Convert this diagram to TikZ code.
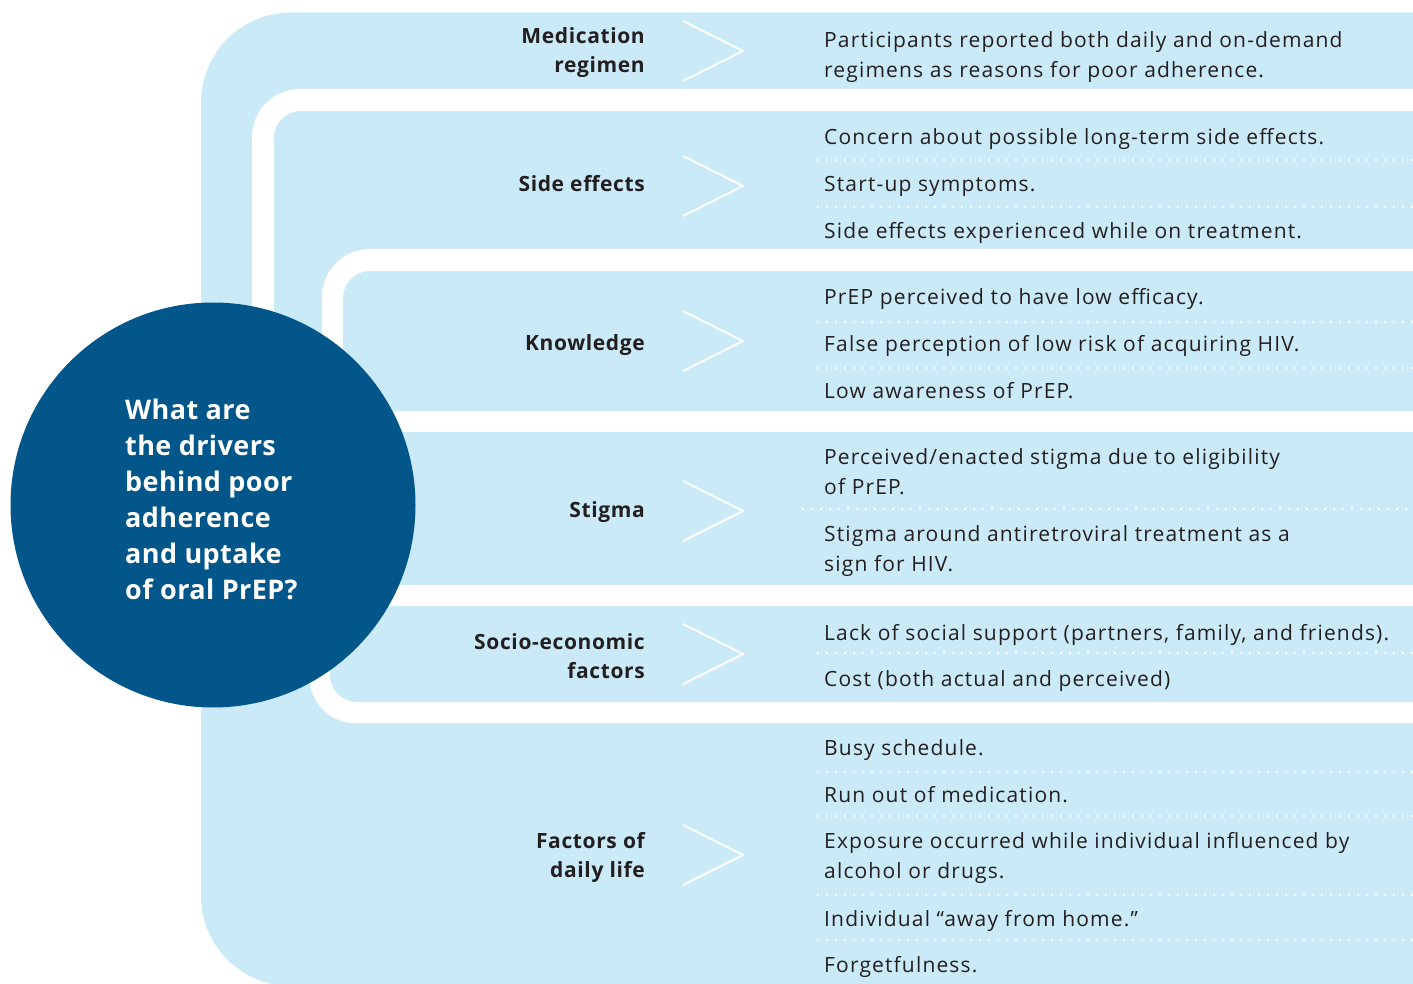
\documentclass[tikz,border=0pt]{standalone}
\usepackage{fontspec}
\setmainfont{Open Sans}
\newfontfamily\findingfont[LetterSpace=5.5]{Open Sans}
\newfontfamily\labelfont[LetterSpace=3]{Open Sans}
\newfontfamily\questionfont[LetterSpace=1.5]{Open Sans}
\definecolor{paleblue}{HTML}{CBEAF7}
\definecolor{deepblue}{HTML}{02568A}
\definecolor{inkgray}{HTML}{231F20}
\begin{document}
\begin{tikzpicture}[x=1pt,y=-1pt,
  cat/.style={font=\labelfont\bfseries\fontsize{21}{29}\selectfont, text=inkgray, anchor=base east, inner sep=0pt},
  item/.style={font=\findingfont\fontsize{21}{30}\selectfont, text=inkgray, anchor=base west, inner sep=0pt},
  hubtext/.style={font=\questionfont\bfseries\fontsize{27}{36}\selectfont, text=white, anchor=base west, inner sep=0pt},
  chev/.style={draw=white, line width=2pt},
  dots/.style={draw=white, line width=2.8pt, line cap=round, dash pattern=on 0pt off 9pt}]
\useasboundingbox (0,0) rectangle (1413,984);
\clip (0,0) rectangle (1413,984);

% outer band: medication regimen (top) and factors of daily life (bottom)
\fill[paleblue] (1420,12.5) -- (291,12.5) arc[start angle=270,end angle=180,radius=90]
  -- (201,896) arc[start angle=180,end angle=90,radius=90] -- (1420,986) -- cycle;
% first white gap
\fill[white] (1420,89) -- (300,89) arc[start angle=270,end angle=180,radius=48]
  -- (252,500) -- (310,600) -- (310,678) arc[start angle=180,end angle=90,radius=45]
  -- (1420,723) -- cycle;
% side effects
\fill[paleblue] (1420,111) -- (301,111) arc[start angle=270,end angle=180,radius=27]
  -- (274,520) -- (322,580) -- (1420,580) -- cycle;
% second white gap
\fill[white] (1420,249) -- (370,249) arc[start angle=270,end angle=180,radius=48]
  -- (322,560) -- (310,600) -- (310,678) arc[start angle=180,end angle=90,radius=45]
  -- (1420,723) -- cycle;
% knowledge
\fill[paleblue] (1420,271) -- (370,271) arc[start angle=270,end angle=180,radius=27]
  -- (343,411) -- (1420,411) -- cycle;
% stigma
\fill[paleblue] (1420,432) -- (340,432) -- (340,585) -- (1420,585) -- cycle;
% socio-economic factors
\fill[paleblue] (1420,606) -- (330,606) -- (330,675) arc[start angle=180,end angle=90,radius=27]
  -- (1420,702) -- cycle;

% central question
\node[circle, fill=deepblue, minimum size=405pt, inner sep=0pt] (hub) at (213,505) {};
\node[hubtext] (q1) at (125,419) {What are};
\node[hubtext] (q2) at (125,455) {the drivers};
\node[hubtext] (q3) at (125,491) {behind poor};
\node[hubtext] (q4) at (125,527) {adherence};
\node[hubtext] (q5) at (125,563) {and uptake};
\node[hubtext] (q6) at (125,599) {of oral PrEP?};

% chevrons
\foreach \c in {51,186,341,511,654,855}
  \draw[chev] (683,\c-30) -- (743,\c) -- (683,\c+30);

% dotted separators
\foreach \y in {160,207,322,368,653,772,816,895,940}
  \draw[dots] (818,\y) -- (1413,\y);
\draw[dots] (803,509) -- (1413,509);

% category labels
\node[cat] (c1a) at (645,44) {Medication};
\node[cat] (c1b) at (645,73) {regimen};
\node[cat] (c2) at (645,192) {Side effects};
\node[cat] (c3) at (645,350) {Knowledge};
\node[cat] (c4) at (645,517) {Stigma};
\node[cat] (c5a) at (645,649) {Socio-economic};
\node[cat] (c5b) at (645,678) {factors};
\node[cat] (c6a) at (645,848) {Factors of};
\node[cat] (c6b) at (645,877) {daily life};

% findings
\node[item] (m1) at (824,48) {Participants reported both daily and on-demand};
\node[item] (m2) at (824,78) {regimens as reasons for poor adherence.};
\node[item] (s1) at (824,145) {Concern about possible long-term side effects.};
\node[item] (s2) at (824,192) {Start-up symptoms.};
\node[item] (s3) at (824,239) {Side effects experienced while on treatment.};
\node[item] (k1) at (824,305) {PrEP perceived to have low efficacy.};
\node[item] (k2) at (824,351) {False perception of low risk of acquiring HIV.};
\node[item] (k3) at (824,398) {Low awareness of PrEP.};
\node[item] (t1) at (824,464) {Perceived/enacted stigma due to eligibility};
\node[item] (t2) at (824,494) {of PrEP.};
\node[item] (t3) at (824,541) {Stigma around antiretroviral treatment as a};
\node[item] (t4) at (824,571) {sign for HIV.};
\node[item] (e1) at (824,640) {Lack of social support (partners, family, and friends).};
\node[item] (e2) at (824,686) {Cost (both actual and perceived)};
\node[item] (d1) at (824,755) {Busy schedule.};
\node[item] (d2) at (824,802) {Run out of medication.};
\node[item] (d3) at (824,848) {Exposure occurred while individual influenced by};
\node[item] (d4) at (824,878) {alcohol or drugs.};
\node[item] (d5) at (824,926) {Individual “away from home.”};
\node[item] (d6) at (824,972) {Forgetfulness.};
\end{tikzpicture}
\end{document}
